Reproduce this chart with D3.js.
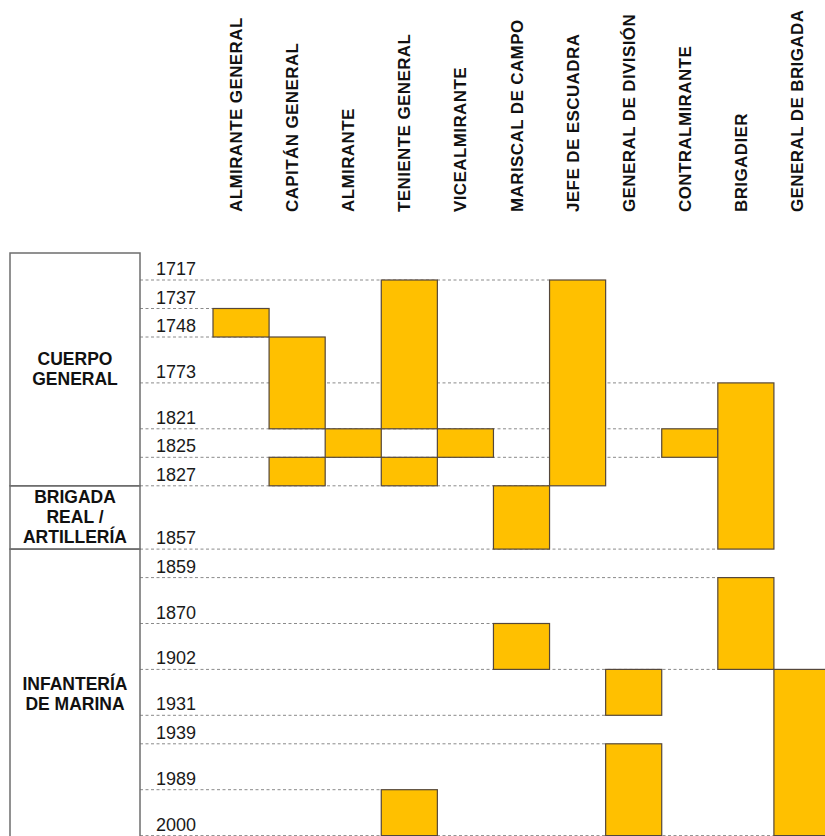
<!DOCTYPE html>
<html>
<head>
<meta charset="utf-8">
<script src="https://cdn.jsdelivr.net/npm/d3@7"></script>
<style>
  html, body { margin: 0; padding: 0; background: #fff; }
  svg { display: block; font-family: "Liberation Sans", Arial, sans-serif; }
</style>
</head>
<body>
<div id="chart"></div>
<script>
// --- Data ---
const RANKS = [
    "ALMIRANTE GENERAL", "CAPITÁN GENERAL", "ALMIRANTE", "TENIENTE GENERAL",
    "VICEALMIRANTE", "MARISCAL DE CAMPO", "JEFE DE ESCUADRA", "GENERAL DE DIVISIÓN",
    "CONTRALMIRANTE", "BRIGADIER", "GENERAL DE BRIGADA"
];
const YEARS = [1717, 1737, 1748, 1773, 1821, 1825, 1827, 1857, 1859, 1870, 1902, 1931, 1939, 1989, 2000];

// each period a rank existed: [rank, from, to]
const PERIODS = [
    ["ALMIRANTE GENERAL", 1737, 1748],
    ["CAPITÁN GENERAL", 1748, 1821],
    ["CAPITÁN GENERAL", 1825, 1827],
    ["ALMIRANTE", 1821, 1825],
    ["TENIENTE GENERAL", 1717, 1821],
    ["TENIENTE GENERAL", 1825, 1827],
    ["TENIENTE GENERAL", 1989, 2000],
    ["VICEALMIRANTE", 1821, 1825],
    ["MARISCAL DE CAMPO", 1827, 1857],
    ["MARISCAL DE CAMPO", 1870, 1902],
    ["JEFE DE ESCUADRA", 1717, 1827],
    ["GENERAL DE DIVISIÓN", 1902, 1931],
    ["GENERAL DE DIVISIÓN", 1939, 2000],
    ["CONTRALMIRANTE", 1821, 1825],
    ["BRIGADIER", 1773, 1857],
    ["BRIGADIER", 1859, 1902],
    ["GENERAL DE BRIGADA", 1902, 2000]
];

const CORPS_NAMES = [["CUERPO", "GENERAL"], ["BRIGADA", "REAL /", "ARTILLERÍA"], ["INFANTERÍA", "DE MARINA"]];
const CORPS_ENDS = [1827, 1857, 2000];

// --- Layout ---
const W = 825, H = 836;
const FIRST_LINE_Y = 280;
const ROW_BASE = 28.5;   // height of a plain row
const ROW_STEP = 17.4;   // extra height per blank half-line
const ROW_EXTRA = [0, 0, 0, 1, 1, 0, 0, 2, 0, 1, 1, 1, 0, 1, 1];
const BOX_LEFT = 10, BOX_RIGHT = 140;
const COLS_LEFT = 213, COLS_RIGHT = 830;
const BAR_FILL = "#ffc000";
const BAR_STROKE = "#55473a";

const svg = d3.select("#chart").append("svg")
    .attr("width", W)
    .attr("height", H);

// --- Scales ---
const xScale = d3.scaleBand()
    .domain(RANKS)
    .range([COLS_LEFT, COLS_RIGHT])
    .paddingInner(0);

const yPositions = Array.from(d3.cumsum(ROW_EXTRA.map((e, i) => i === 0 ? 0 : ROW_BASE + e * ROW_STEP)))
    .map(v => FIRST_LINE_Y + v);

const yScale = d3.scaleOrdinal()
    .domain(YEARS)
    .range(yPositions);

const boxTop = yScale(YEARS[0]) - 27;

// --- Column headers (read bottom to top, starting at y=212) ---
svg.append("g")
    .selectAll("text")
    .data(RANKS)
    .join("text")
    .attr("transform", d => `translate(${xScale(d) + xScale.bandwidth() / 2 + 1}, 212) rotate(-90)`)
    .attr("text-anchor", "start")
    .style("font-size", "17px")
    .style("font-weight", "bold")
    .style("letter-spacing", "0.4px")
    .style("fill", "#111")
    .text(d => d);

// --- Dashed year lines (stop at the rightmost bar touching that year) ---
const lineEnd = year => {
    const touching = PERIODS.filter(p => p[1] === year || p[2] === year);
    if (!touching.length) return BOX_RIGHT;
    return d3.max(touching, p => xScale(p[0]));
};

svg.append("g")
    .selectAll("line")
    .data(YEARS)
    .join("line")
    .attr("x1", BOX_RIGHT)
    .attr("x2", d => lineEnd(d))
    .attr("y1", d => yScale(d))
    .attr("y2", d => yScale(d))
    .attr("stroke", "#8a8a8a")
    .attr("stroke-width", 1)
    .attr("stroke-dasharray", "3,2.5");

// --- Year labels ---
svg.append("g")
    .selectAll("text")
    .data(YEARS)
    .join("text")
    .attr("x", 156)
    .attr("y", d => yScale(d) - 5)
    .style("font-size", "18px")
    .style("fill", "#1a1a1a")
    .text(d => d);

// --- Bars ---
svg.append("g")
    .selectAll("rect")
    .data(PERIODS)
    .join("rect")
    .attr("x", d => xScale(d[0]))
    .attr("y", d => yScale(d[1]))
    .attr("width", xScale.bandwidth())
    .attr("height", d => yScale(d[2]) - yScale(d[1]))
    .attr("fill", BAR_FILL)
    .attr("stroke", BAR_STROKE)
    .attr("stroke-width", 1.2);

// --- Corps boxes on the left ---
const corps = CORPS_NAMES.map((name, i) => ({
    name: name,
    top: i === 0 ? boxTop : yScale(CORPS_ENDS[i - 1]),
    bottom: i === CORPS_NAMES.length - 1 ? yScale(CORPS_ENDS[i]) + 4 : yScale(CORPS_ENDS[i])
}));

const corpsGroup = svg.append("g");

corpsGroup.selectAll("rect")
    .data(corps)
    .join("rect")
    .attr("x", BOX_LEFT)
    .attr("y", d => d.top)
    .attr("width", BOX_RIGHT - BOX_LEFT)
    .attr("height", d => d.bottom - d.top)
    .attr("fill", "none")
    .attr("stroke", "#6e6e6e")
    .attr("stroke-width", 1.5);

const LINE_H = 20;
corpsGroup.selectAll("text")
    .data(corps)
    .join("text")
    .attr("text-anchor", "middle")
    .style("font-size", "17.5px")
    .style("font-weight", "bold")
    .style("fill", "#111")
    .each(function (d) {
        const mid = (d.top + d.bottom) / 2;
        const first = mid - (d.name.length - 1) * LINE_H / 2 + 6;
        d3.select(this).selectAll("tspan")
            .data(d.name)
            .join("tspan")
            .attr("x", (BOX_LEFT + BOX_RIGHT) / 2)
            .attr("y", (t, j) => first + j * LINE_H)
            .text(t => t);
    });
</script>
</body>
</html>
